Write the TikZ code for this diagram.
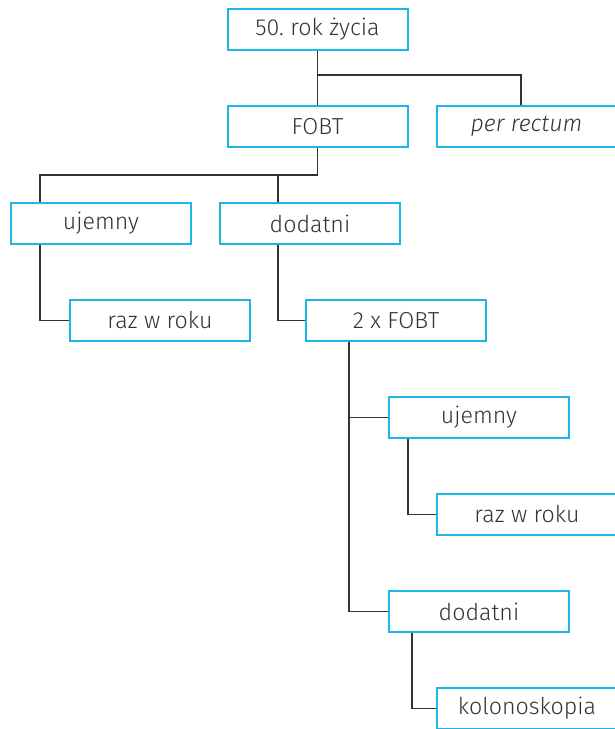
\documentclass[tikz,border=0pt]{standalone}
\usepackage{fontspec}
\setmainfont{Fira Sans Light}[ItalicFont={Fira Sans Light Italic}]
\usepackage{xcolor}
\usetikzlibrary{positioning}
\definecolor{boxblue}{HTML}{1DB4EA}
\definecolor{inkgray}{HTML}{333333}
\frenchspacing

\begin{document}
\begin{tikzpicture} [
		x=0.5pt, y=-0.5pt,
		every node/.style={font=\fontsize{11.6}{13}\selectfont, text=inkgray},
		box/.style    = { rectangle, draw=boxblue, line width=1pt,
			fill=white, minimum width=90pt, minimum height=20.5pt,
			inner sep=0pt },
		link/.style   = { draw=inkgray, line width=0.75pt },
		]
		\clip (0,0) rectangle (615,729);
		% Define nodes
		\node [box] (start)  at (317.5,29.5)  {50. rok życia};
		\node [box] (fobt)   at (317.5,126.5) {FOBT};
		\node [box] (rectum) at (526.5,126.5) {\itshape per rectum};
		\node [box] (ujemL)  at (101,223.5)   {ujemny};
		\node [box] (dodL)   at (310,223.5)   {dodatni};
		\node [box] (razL)   at (160,320.5)   {raz w roku};
		\node [box] (fobt2)  at (396,320.5)   {2 x FOBT};
		\node [box] (ujemR)  at (479,417.5)   {ujemny};
		\node [box] (razR)   at (527,514.5)   {raz w roku};
		\node [box] (dodR)   at (479,611.5)   {dodatni};
		\node [box] (kolo)   at (527,708.5)   {kolonoskopia};
		% branching points
		\coordinate (split1) at (317.5,75);
		\coordinate (split2) at (317.5,175);
		% connect all nodes defined above
		\begin{scope} [every path/.style=link]
		\path (start.south) -- (fobt.north);
		\path (split1) -| ([xshift=-2.75pt] rectum.north);
		\path (fobt.south) -- (split2) -| ([xshift=-30.5pt] ujemL.north);
		\path (split2) -| ([xshift=-16pt] dodL.north);
		% first answer level
		\path ([xshift=-30.5pt] ujemL.south) |- (razL.west);
		\path ([xshift=-16pt] dodL.south) |- (fobt2.west);
		% repeated test
		\path ([xshift=-23.5pt] fobt2.south) |- (dodR.west);
		\path ([xshift=-23.5pt] fobt2.south) |- (ujemR.west);
		\path ([xshift=-35.5pt] ujemR.south) |- (razR.west);
		\path ([xshift=-33.5pt] dodR.south) |- (kolo.west);
		\end{scope}
\end{tikzpicture}
\end{document}
